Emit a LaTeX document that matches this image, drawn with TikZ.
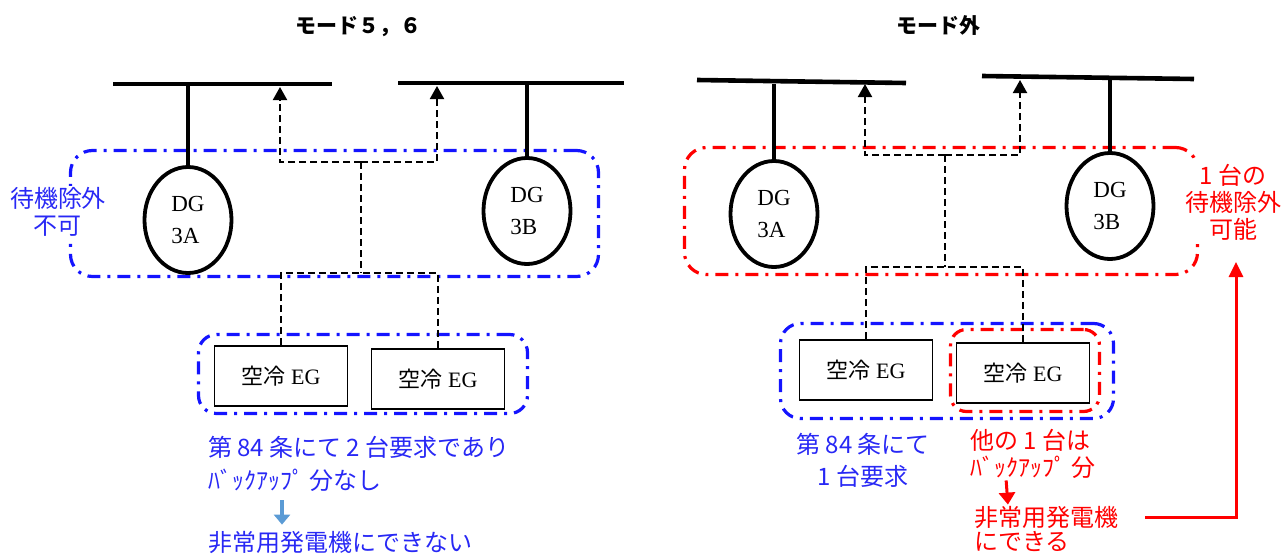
\documentclass[tikz,border=0pt]{standalone}
\usepackage{fontspec}
\setmainfont{Liberation Serif}
\newfontfamily\jp{Noto Sans CJK JP}
\usetikzlibrary{arrows.meta,shapes.geometric}
\definecolor{grpblue}{RGB}{20,20,255}
\definecolor{txtblue}{RGB}{40,40,245}
\definecolor{myred}{RGB}{255,0,0}
\definecolor{lightarr}{RGB}{91,155,213}
\begin{document}
\begin{tikzpicture}[x=1pt,y=-1pt,
  bus/.style={line width=4.6pt},
  dg/.style={draw, ellipse, line width=3.8pt, minimum width=87pt, minimum height=106pt, inner sep=0pt, align=left, font=\fontsize{23}{32}\selectfont},
  eg/.style={draw, line width=1.8pt, minimum width=133pt, minimum height=60pt, inner sep=0pt, font=\fontsize{22}{24}\selectfont},
  feed/.style={line width=2pt, dash pattern=on 7pt off 4pt},
  uparr/.style={-{Triangle[length=13pt,width=14pt]}},
  grp/.style={draw, line width=3.2pt, rounded corners=22pt, dash pattern=on 13pt off 7pt on 3pt off 7pt, inner sep=0pt},
  ttl/.style={font=\jp\bfseries\fontsize{21}{24}\selectfont},
  lab/.style={font=\jp\fontsize{24}{27}\selectfont, inner sep=0pt},
  lbarr/.style={lightarr, line width=4pt, -{Triangle[length=10pt,width=16pt]}},
  redarr/.style={myred, line width=3pt, -{Triangle[length=12pt,width=16pt]}},
  redline/.style={myred, line width=3pt, -{Triangle[length=15pt,width=14pt]}},
]
\path[use as bounding box] (0,0) rectangle (1286,554);

% ===== Left panel =====
\node[ttl] (t1) at (358,27) {モード５，６};
\coordinate (bA1) at (113,84); \coordinate (bA2) at (332,84);
\coordinate (bB1) at (398,83); \coordinate (bB2) at (624,83);
\draw[bus] (bA1) -- (bA2);
\draw[bus] (bB1) -- (bB2);

\node[grp, grpblue, minimum width=528pt, minimum height=126pt] (g1) at (334.5,213.5) {};
\node[dg] (dgA) at (188,220) {DG\\3A};
\node[dg] (dgB) at (527,211) {DG\\3B};
\draw[bus] (dgA.north) -- (dgA.north |- bA1);
\draw[bus] (dgB.north) -- (dgB.north |- bB1);

\coordinate (j1) at (361,162);
\coordinate (j2) at (361,273);
\coordinate (pA) at (280,87);
\coordinate (pB) at (437,86);
\draw[feed,uparr] (j1) -| (pA);
\draw[feed,uparr] (j1) -| (pB);
\draw[feed] (j1) -- (j2);

\node[grp, grpblue, rounded corners=18pt, minimum width=329pt, minimum height=79pt] (g2) at (363,374) {};
\node[eg] (eg1) at (281,376) {{\jp 空冷} EG};
\node[eg] (eg2) at (438,379) {{\jp 空冷} EG};
\draw[feed] (eg1.north) |- (j2) -| (eg2.north);

\node[lab, text=txtblue, align=center, fill=white, inner sep=1pt] (nl) at (58,212) {待機除外\\不可};
\node[lab, text=txtblue, anchor=west] (l1) at (208,447) {第 84 条にて 2 台要求であり};
\node[lab, text=txtblue, anchor=west] (l2) at (208,480) {ﾊﾞｯｸｱｯﾌﾟ 分なし};
\node[lab, text=txtblue, anchor=west] (l3) at (208,542) {非常用発電機にできない};
\draw[lbarr, shorten <=9pt, shorten >=6pt] ([xshift=74pt]l2.south west) -- ([xshift=74pt]l3.north west);

% ===== Right panel =====
\node[ttl] (t2) at (938,25) {モード外};
\coordinate (bC1) at (697,80); \coordinate (bC2) at (906,83);
\coordinate (bD1) at (982,76); \coordinate (bD2) at (1194,79);
\draw[bus] (bC1) -- (bC2);
\draw[bus] (bD1) -- (bD2);

\node[grp, myred, minimum width=513pt, minimum height=127pt] (g3) at (941,211) {};
\node[dg] (dgC) at (774,214) {DG\\3A};
\node[dg] (dgD) at (1110,206) {DG\\3B};
\draw[bus] (dgC.north) -- ([yshift=-1pt]dgC.north |- bC2);
\draw[bus] (dgD.north) -- ([yshift=-1pt]dgD.north |- bD2);

\coordinate (j3) at (945,155);
\coordinate (j4) at (945,267);
\coordinate (pC) at (865,84);
\coordinate (pD) at (1020,80);
\draw[feed,uparr] (j3) -| (pC);
\draw[feed,uparr] (j3) -| (pD);
\draw[feed] (j3) -- (j4);

\node[grp, grpblue, rounded corners=20pt, minimum width=333pt, minimum height=95pt] (g4) at (947,371) {};
\node[grp, myred, rounded corners=16pt, minimum width=149pt, minimum height=82pt] (g5) at (1025,370.5) {};
\node[eg] (eg3) at (866,370) {{\jp 空冷} EG};
\node[eg] (eg4) at (1023,373) {{\jp 空冷} EG};
\draw[feed] (eg3.north) |- (j4) -| (eg4.north);

\node[lab, text=myred, align=center, fill=white, inner sep=1pt] (nr) at (1233,202) {1 台の\\待機除外\\可能};
\node[lab, text=txtblue, align=center, font=\jp\fontsize{24}{32}\selectfont] (bl) at (863,460) {第 84 条にて\\1 台要求};
\node[lab, text=myred, anchor=west] (rb1) at (970,440) {他の 1 台は};
\node[lab, text=myred, anchor=west] (rb2) at (970,467) {ﾊﾞｯｸｱｯﾌﾟ 分};
\node[lab, text=myred, anchor=west] (rn1) at (974,517) {非常用発電機};
\node[lab, text=myred, anchor=west] (rn2) at (974,541) {にできる};
\draw[redarr, shorten <=2pt, shorten >=1pt] ([xshift=36pt]rb2.south west) -- ([xshift=34pt]rn1.north west);
\coordinate (rtip) at (1236,262);
\draw[redline] ([xshift=27pt]rn1.east) -| (rtip);
\end{tikzpicture}
\end{document}
